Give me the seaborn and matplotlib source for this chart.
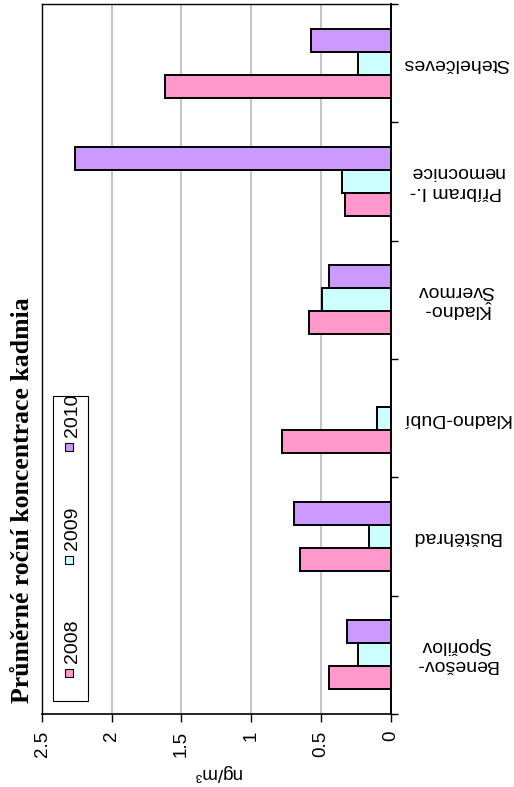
import numpy as np
import pandas as pd
import seaborn as sns
import matplotlib
matplotlib.use("Agg")
import matplotlib.pyplot as plt
from matplotlib import font_manager
from matplotlib.patches import Rectangle

# Annual mean cadmium concentrations (ng/m3) per monitoring station
stations = ["Benešov-\nSpořilov", "Buštěhrad", "Kladno-Dubí",
            "Kladno-\nŠvermov", "Příbram I.-\nnemocnice", "Stehelčeves"]
years = ["2008", "2009", "2010"]
cd_2008 = [0.44, 0.65, 0.78, 0.585, 0.325, 1.62]
cd_2009 = [0.23, 0.155, 0.10, 0.49, 0.35, 0.23]
cd_2010 = [0.31, 0.69, np.nan, 0.44, 2.26, 0.57]
value_ticks = [0, 0.5, 1, 1.5, 2, 2.5]
value_tick_labels = ["0", "0.5", "1", "1.5", "2", "2.5"]
title = "Průměrné roční koncentrace kadmia"
unit = "ng/m³"
colors = ["#FF99CC", "#CCFFFF", "#CC99FF"]

sns.set_theme(style="white")
installed = {f.name for f in font_manager.fontManager.ttflist}
narrow = "Liberation Sans Narrow" if "Liberation Sans Narrow" in installed else "Liberation Sans"
plt.rcParams["font.family"] = ["Liberation Sans", "DejaVu Sans"]

rows = []
for year, vals in zip(years, [cd_2008, cd_2009, cd_2010]):
    for st, v in zip(stations, vals):
        if not np.isnan(v):
            rows.append({"station": st, "year": year, "value": v})
df = pd.DataFrame(rows)

W, H = 514, 787
fig = plt.figure(figsize=(W / 100, H / 100), dpi=100)


def fx(x):
    return x / W


def fy(y):
    return 1 - y / H


ax = fig.add_axes([fx(42), fy(714), fx(390.5) - fx(42), fy(4) - fy(714)])
sns.barplot(data=df, x="value", y="station", hue="year", order=stations,
            hue_order=years, palette=colors, orient="h", width=0.585,
            edgecolor="black", linewidth=1.4, saturation=1, errorbar=None,
            legend=False, ax=ax)

ax.set_xlim(2.5, 0)
ax.set_ylim(-0.5, len(stations) - 0.5)

# value axis (bottom)
ax.set_xticks(value_ticks)
ax.set_xticklabels(value_tick_labels, rotation=90, fontfamily=narrow, fontsize=13.5)
ax.tick_params(axis="x", direction="out", length=6, width=1, pad=6,
               color="black", labelcolor="black", bottom=True)
ax.xaxis.grid(True, color="#b4b4b4", lw=1.1)
ax.yaxis.grid(False)
ax.set_axisbelow(True)
ax.set_xlabel(unit, rotation=180, fontsize=13.5, labelpad=5, color="black")

# category axis (right side), ticks between stations
ax.yaxis.tick_right()
ax.set_yticks(np.arange(-0.5, len(stations), 1.0))
ax.set_yticklabels([])
ax.tick_params(axis="y", direction="out", length=5, width=1, color="black",
               right=True, left=False)
ax.set_ylabel("")
for i, st in enumerate(stations):
    ax.text(1.188, i, st, transform=ax.get_yaxis_transform(), rotation=180,
            ha="center", va="center", multialignment="center", fontsize=14,
            color="black")

for side, s in ax.spines.items():
    s.set_visible(True)
    s.set_color("black")
    s.set_linewidth(1.0)
ax.spines["right"].set_linewidth(1.4)
ax.spines["bottom"].set_linewidth(1.2)

# title
fig.text(fx(23), fy(500), title, rotation=90, fontfamily="Liberation Serif",
         fontweight="bold", fontsize=18.5, ha="center", va="center", color="black")

# legend box
fig.add_artist(Rectangle((fx(53), fy(701)), fx(88) - fx(53), fy(396) - fy(701),
                         transform=fig.transFigure, facecolor="white",
                         edgecolor="black", lw=0.8, zorder=5))
marker_y = [673, 560, 447]
for year, col, my in zip(years, colors, marker_y):
    fig.add_artist(Rectangle((fx(65), fy(my + 4)), fx(8), 8 / H,
                             transform=fig.transFigure, facecolor=col,
                             edgecolor="black", lw=0.8, zorder=6))
    fig.text(fx(73), fy(my - 10), year, rotation=90, fontfamily=narrow,
             fontsize=14, ha="center", va="bottom", color="black", zorder=6)

fig.savefig("out.png", dpi=100, facecolor="white")
